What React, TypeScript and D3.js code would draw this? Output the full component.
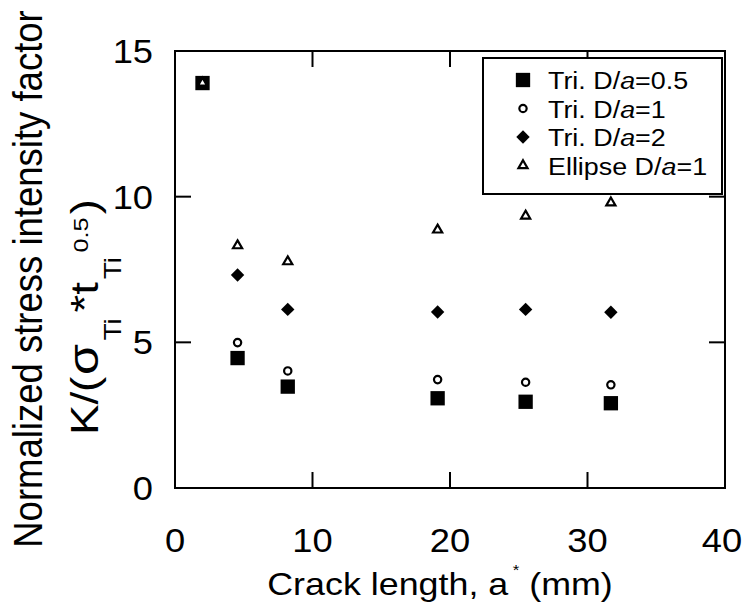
import React from 'react';
import * as d3 from 'd3';

// crack length a* (mm) and normalized K for each case
const crackLength = [2, 4.55, 8.2, 19.1, 25.5, 31.7];
const triHalf = [13.9, 4.46, 3.48, 3.08, 2.96, 2.91];
const triOne = [13.9, 4.99, 4.02, 3.72, 3.63, 3.54];
const triTwo = [13.9, 7.31, 6.13, 6.04, 6.13, 6.03];
const ellipseOne = [13.9, 8.32, 7.77, 8.86, 9.34, 9.79];

const seriesNames = ['Tri. D/a=0.5', 'Tri. D/a=1', 'Tri. D/a=2', 'Ellipse D/a=1'];
const xTicks = [0, 10, 20, 30, 40];
const yTicks = [0, 5, 10, 15];

const width = 744;
const height = 616;
const SX = 1.12; // the original figure is a bit stretched sideways
const font = '"Liberation Sans", Arial, sans-serif';

const x = d3.scaleLinear().domain([0, 40]).range([175, 725]);
const y = d3.scaleLinear().domain([0, 15]).range([488, 51]);

const markers = [
  { path: d3.symbol(d3.symbolSquare, 205)(), fill: '#000', rotate: 0 },
  { path: d3.symbol(d3.symbolCircle, 42)(), fill: '#fff', rotate: 0 },
  { path: d3.symbol(d3.symbolSquare, 90)(), fill: '#000', rotate: 45 },
  { path: d3.symbol(d3.symbolTriangle, 36)(), fill: '#fff', rotate: 0 },
];

const seriesValues = [triHalf, triOne, triTwo, ellipseOne];

const Marker = ({ i, cx, cy }) => {
  const m = markers[i];
  return (
    <path
      d={m.path}
      transform={`translate(${cx},${cy}) rotate(${m.rotate})`}
      fill={m.fill}
      stroke="#000"
      strokeWidth={i === 0 || i === 2 ? 0 : 2.2}
    />
  );
};

const SText = ({ x0, y0, size, anchor = 'start', sx = SX, children }) => (
  <text
    transform={`translate(${x0},${y0}) scale(${sx},1)`}
    fontSize={size}
    textAnchor={anchor}
    fontFamily={font}
    fill="#000"
  >
    {children}
  </text>
);

export default function App() {
  const [x0, x1] = x.range();
  const [y0, y1] = y.range();
  const tickLen = 16;

  return (
    <svg
      width={width}
      height={height}
      style={{ position: 'absolute', left: 0, top: 0, background: '#fff' }}
    >
      <rect x={0} y={0} width={width} height={height} fill="#fff" />

      {/* frame */}
      <rect x={x0} y={y1} width={x1 - x0} height={y0 - y1} fill="none" stroke="#000" strokeWidth={2} />

      {/* inward ticks on all four sides */}
      {xTicks.slice(1, -1).map(t => (
        <g key={'xt' + t}>
          <line x1={x(t)} x2={x(t)} y1={y0} y2={y0 - tickLen} stroke="#000" strokeWidth={2} />
          <line x1={x(t)} x2={x(t)} y1={y1} y2={y1 + tickLen} stroke="#000" strokeWidth={2} />
        </g>
      ))}
      {yTicks.slice(1, -1).map(t => (
        <g key={'yt' + t}>
          <line x1={x0} x2={x0 + tickLen} y1={y(t)} y2={y(t)} stroke="#000" strokeWidth={2} />
          <line x1={x1} x2={x1 - tickLen} y1={y(t)} y2={y(t)} stroke="#000" strokeWidth={2} />
        </g>
      ))}

      {/* tick labels */}
      {xTicks.map(t => (
        <SText key={'xl' + t} x0={t === 40 ? x(t) - 3 : x(t)} y0={552} size={33} sx={1.1} anchor="middle">{t}</SText>
      ))}
      {yTicks.map(t => (
        <SText key={'yl' + t} x0={153} y0={y(t) + 12} size={33} sx={1.1} anchor="end">{t}</SText>
      ))}

      {/* x title */}
      <SText x0={440} y0={595} size={32} anchor="middle">
        Crack length, a<tspan fontSize={15} dx={4} dy={-20}>*</tspan>
        <tspan dy={20}> (mm)</tspan>
      </SText>

      {/* y title, two lines */}
      <g transform={`translate(42,279) scale(${SX},1) rotate(-90)`}>
        <text fontSize={36.5} textAnchor="middle" fontFamily={font} fill="#000">
          Normalized stress intensity factor
        </text>
      </g>
      <g transform="translate(98,435) rotate(-90) scale(1.2,1)">
        <text fontSize={38} fontFamily={font} fill="#000">
          <tspan x={0}>K/(</tspan>
          <tspan x={50} fontSize={42}>σ</tspan>
          <tspan x={79} fontSize={23} dy={23}>Ti</tspan>
          <tspan x={102} dy={-23}>*t</tspan>
          <tspan x={130} fontSize={23} dy={23}>Ti</tspan>
          <tspan x={152} fontSize={21} dy={-33}>0.5</tspan>
          <tspan x={184} dy={10}>)</tspan>
        </text>
      </g>

      {/* data */}
      {seriesValues.map((vals, i) => (
        <g key={'s' + i}>
          {vals.map((v, j) => (
            <Marker key={j} i={i} cx={x(crackLength[j])} cy={y(v)} />
          ))}
        </g>
      ))}

      {/* legend */}
      <rect x={483} y={58} width={239} height={136} fill="#fff" stroke="#000" strokeWidth={2} />
      {seriesNames.map((name, i) => {
        const ly = 80 + i * 28.5;
        const last = name.lastIndexOf('a');
        return (
          <g key={'lg' + i}>
            <Marker i={i} cx={523} cy={ly} />
            <SText x0={548} y0={ly + 9} size={24}>
              {name.slice(0, last)}
              <tspan fontStyle="italic">a</tspan>
              {name.slice(last + 1)}
            </SText>
          </g>
        );
      })}
    </svg>
  );
}
